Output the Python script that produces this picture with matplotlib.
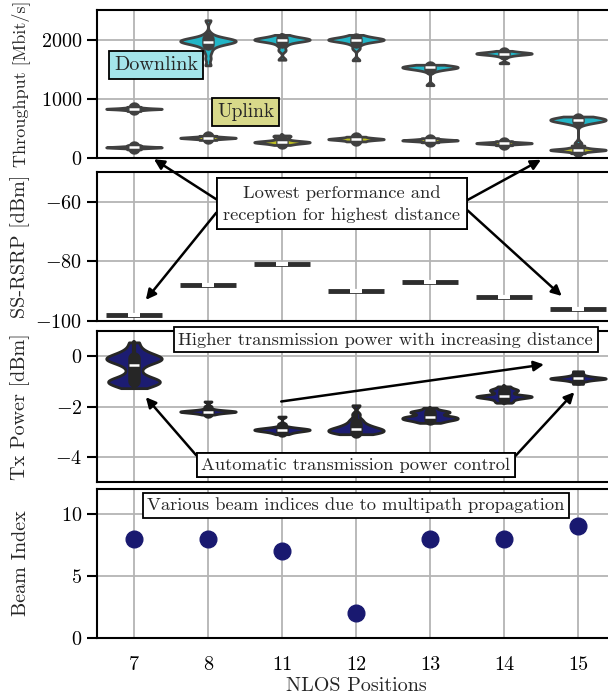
import numpy as np
import matplotlib
matplotlib.use("Agg")
import matplotlib.pyplot as plt
import seaborn as sns

positions = ["7", "8", "11", "12", "13", "14", "15"]

# throughput samples [Mbit/s]
downlink = [
    [795, 810, 818, 824, 828, 830, 832, 836, 842, 850, 865],
    [1565, 1680, 1780, 1850, 1890, 1920, 1940, 1950, 1955, 1960, 1965, 1970, 1980, 1990, 2000, 2005, 2010, 2020, 2040, 2100, 2327],
    [1660, 1820, 1900, 1950, 1975, 1990, 1995, 2000, 2000, 2005, 2010, 2025, 2050, 2080],
    [1650, 1850, 1920, 1960, 1980, 1990, 1995, 2000, 2000, 2005, 2010, 2025, 2050, 2080],
    [1230, 1470, 1500, 1515, 1522, 1528, 1532, 1536, 1540, 1548, 1560, 1575],
    [1600, 1720, 1745, 1755, 1760, 1764, 1768, 1772, 1778, 1790, 1810],
    [240, 580, 615, 628, 635, 640, 645, 652, 662, 680, 700],
]
uplink = [
    [145, 165, 172, 176, 179, 182, 185, 190, 198, 215],
    [305, 320, 328, 334, 338, 342, 346, 352, 360, 375],
    [220, 240, 252, 260, 265, 270, 275, 282, 300, 330, 360, 380],
    [280, 295, 305, 312, 317, 322, 328, 335, 345, 360],
    [265, 280, 288, 293, 297, 301, 305, 311, 320, 335],
    [215, 232, 240, 245, 249, 253, 257, 262, 270, 285],
    [80, 105, 118, 126, 132, 137, 142, 148, 158, 175, 210],
]

# SS-RSRP [dBm] (constant per position)
rsrp = [-98, -88, -81, -90, -87, -92, -96]

# Tx power samples [dBm]
tx_power = [
    [0.55, 0.3, 0.15, 0.05, 0.0, -0.05, -0.1, -0.12, -0.15, -0.2, -0.27, -0.4, -0.6, -0.8, -0.9, -0.95, -1.0, -1.02, -1.05, -1.1, -1.2, -1.27],
    [-1.8, -2.0, -2.1, -2.15, -2.17, -2.18, -2.19, -2.2, -2.2, -2.21, -2.22, -2.23, -2.25, -2.28, -2.32],
    [-2.4, -2.7, -2.82, -2.86, -2.88, -2.9, -2.91, -2.92, -2.93, -2.94, -2.96, -2.98, -3.0, -3.05, -3.1],
    [-1.95, -2.3, -2.5, -2.6, -2.7, -2.75, -2.8, -2.85, -2.88, -2.9, -2.92, -2.95, -2.97, -3.0, -3.02, -3.05, -3.08, -3.1],
    [-2.05, -2.15, -2.2, -2.22, -2.25, -2.3, -2.38, -2.4, -2.42, -2.45, -2.48, -2.5, -2.52, -2.55, -2.6, -2.65],
    [-1.2, -1.3, -1.35, -1.38, -1.45, -1.55, -1.58, -1.6, -1.6, -1.62, -1.65, -1.7, -1.78, -1.85],
    [-0.6, -0.7, -0.78, -0.82, -0.85, -0.87, -0.88, -0.89, -0.9, -0.92, -0.95, -1.0, -1.1],
]

beam_index = [8, 8, 7, 2, 8, 8, 9]

sns.set_style("whitegrid")
plt.rcParams.update({
    "font.family": "serif",
    "font.serif": ["cmr10"],
    "mathtext.fontset": "cm",
    "axes.formatter.use_mathtext": True,
    "font.size": 13.3,
    "axes.labelsize": 14.5,
    "xtick.labelsize": 14.5,
    "ytick.labelsize": 14.5,
    "axes.edgecolor": "black",
    "axes.linewidth": 1.5,
    "grid.color": "#b4b4b4",
    "grid.linewidth": 1.3,
    "ytick.left": True,
    "ytick.major.size": 7,
    "ytick.major.width": 1.5,
    "ytick.color": "black",
    "xtick.color": "black",
})

fig = plt.figure(figsize=(6.08, 7.0), dpi=100)
left, width = 0.1595, 0.852
ax1 = fig.add_axes([left, 0.7743, width, 0.2114])
ax2 = fig.add_axes([left, 0.5414, width, 0.2129], sharex=ax1)
ax3 = fig.add_axes([left, 0.3114, width, 0.2157], sharex=ax1)
ax4 = fig.add_axes([left, 0.0886, width, 0.2129], sharex=ax1)

vw = 0.75
vkw = dict(inner="box", cut=0, density_norm="width", width=vw, saturation=1,
           linewidth=2.0, bw_adjust=0.5)

sns.violinplot(data=downlink, ax=ax1, color="#22b5c6", linecolor="#404040", **vkw)
sns.violinplot(data=uplink, ax=ax1, color="#bcbd22", linecolor="#404040", **vkw)

idx = np.arange(len(rsrp))
ax2.hlines(rsrp, idx - vw / 2, idx + vw / 2, color="#2e2e2e", lw=3.5, zorder=3)
ax2.plot(idx, rsrp, "_", color="white", markersize=8, mew=3, zorder=4)

sns.violinplot(data=tx_power, ax=ax3, color="#1c1c72", linecolor="#262626", **vkw)
ax4.plot(idx, beam_index, "o", color="#191970", markersize=12, linestyle="none")

ax1.set_ylim(0, 2500)
ax1.set_yticks([0, 1000, 2000])
ax2.set_ylim(-100, -50)
ax2.set_yticks([-100, -80, -60])
ax3.set_ylim(-5, 1)
ax3.set_yticks([-4, -2, 0])
ax4.set_ylim(0, 12)
ax4.set_yticks([0, 5, 10])
ax4.set_xlim(-0.5, 6.5)
ax4.set_xticks(idx)
ax4.set_xticklabels(positions)

ax1.set_ylabel("Throughput [Mbit/s]", fontsize=13)
ax2.set_ylabel("SS-RSRP [dBm]")
ax3.set_ylabel("Tx Power [dBm]")
ax4.set_ylabel("Beam Index")
ax4.set_xlabel("NLOS Positions", labelpad=2)

for ax in (ax1, ax2, ax3, ax4):
    ax.grid(True, axis="both")
    ax.set_axisbelow(True)
    ax.yaxis.set_label_coords(-0.13, 0.5)
    if ax is not ax4:
        ax.tick_params(axis="x", labelbottom=False, length=0)
ax4.tick_params(axis="x", length=0, pad=13)

box = dict(boxstyle="square,pad=0.25", facecolor="white", edgecolor="black", linewidth=1.3)
arrow = dict(arrowstyle="-|>", color="black", lw=1.8, mutation_scale=15, shrinkA=0, shrinkB=0)

ax1.text(0.3, 1563, "Downlink", ha="center", va="center", zorder=10, fontsize=14.5,
         bbox=dict(box, facecolor="#a4e4ea"))
ax1.text(1.51, 773, "Uplink", ha="center", va="center", zorder=10, fontsize=14,
         bbox=dict(box, facecolor="#d8d98a"))

msg = "Lowest performance and\nreception for highest distance"
for xy, trans, rel in [((0.27, -20), ax1.transData, (0, 0.5)),
                       ((0.16, -92.9), ax2.transData, (0, 0.5)),
                       ((5.5, -30), ax1.transData, (1, 0.5)),
                       ((5.78, -91.6), ax2.transData, (1, 0.5))]:
    ax2.annotate(msg, xy=xy, xycoords=trans, xytext=(2.81, -60.7), textcoords="data",
                 ha="center", va="center", linespacing=1.5, zorder=10, annotation_clip=False,
                 bbox=dict(box, boxstyle="square,pad=0.35"),
                 arrowprops=dict(arrow, relpos=rel, clip_on=False))

ax3.text(3.4, 0.65, "Higher transmission power with increasing distance", ha="center",
         va="center", bbox=box, zorder=10)
ax3.annotate("", xy=(5.54, -0.33), xytext=(1.99, -1.8), arrowprops=arrow, zorder=10)

msg = "Automatic transmission power control"
for xy, rel in [((0.16, -1.63), (0, 0.75)), ((5.95, -1.43), (1, 0.75))]:
    ax3.annotate(msg, xy=xy, xytext=(3.0, -4.33), ha="center", va="center", bbox=box,
                 zorder=10, arrowprops=dict(arrow, relpos=rel))

ax4.text(3.0, 10.66, "Various beam indices due to multipath propagation", ha="center",
         va="center", bbox=box, zorder=10)

fig.savefig("out.png", dpi=100)
